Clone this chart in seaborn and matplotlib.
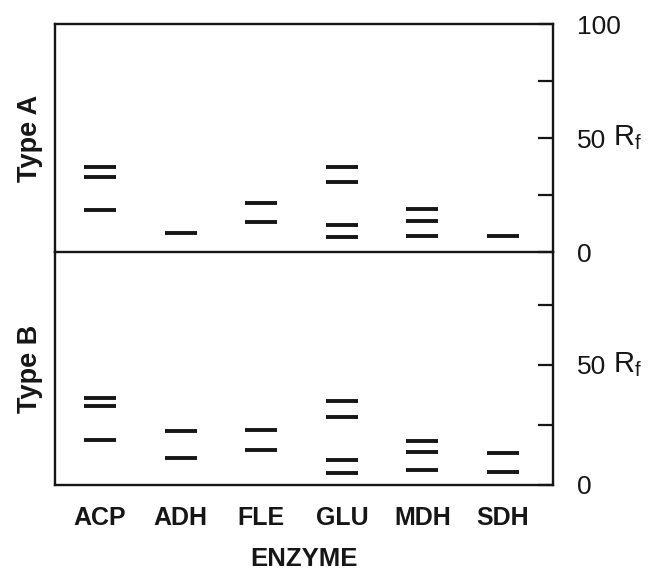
import matplotlib
matplotlib.use("Agg")
import matplotlib.pyplot as plt
import matplotlib.transforms as mtransforms
import seaborn as sns
import pandas as pd

enzymes = ["ACP", "ADH", "FLE", "GLU", "MDH", "SDH"]

# Rf band positions (x100)
type_a_enzyme = ["ACP", "ACP", "ACP", "ADH", "FLE", "FLE",
                 "GLU", "GLU", "GLU", "GLU", "MDH", "MDH", "MDH", "SDH"]
type_a_rf = [37.5, 32.8, 18.5, 8.5, 21.5, 13.3,
             37.3, 30.7, 11.7, 6.7, 19.0, 13.7, 6.9, 6.9]

type_b_enzyme = ["ACP", "ACP", "ACP", "ADH", "ADH", "FLE", "FLE",
                 "GLU", "GLU", "GLU", "GLU", "MDH", "MDH", "MDH", "SDH", "SDH"]
type_b_rf = [36.3, 32.7, 18.7, 22.6, 11.2, 22.7, 14.4,
             34.8, 28.3, 10.2, 5.1, 18.5, 13.6, 6.1, 13.2, 5.6]

top_ticks = [0, 25, 50, 75, 100]
top_ticklabels = ["0", "", "50", "", "100"]
bottom_ticks = [0, 25, 50, 75]
bottom_ticklabels = ["0", "", "50", ""]

sns.set_theme(style="white")
plt.rcParams["font.family"] = ["Liberation Sans", "DejaVu Sans"]
plt.rcParams["mathtext.fontset"] = "custom"
plt.rcParams["mathtext.rm"] = "Liberation Sans"
plt.rcParams["mathtext.it"] = "Liberation Sans"

df_a = pd.DataFrame({"enzyme": type_a_enzyme, "rf": type_a_rf})
df_b = pd.DataFrame({"enzyme": type_b_enzyme, "rf": type_b_rf})

W, H = 667, 573
fig = plt.figure(figsize=(W / 100, H / 100), dpi=100)
left, right = 55 / W, 553 / W
y_top, y_mid, y_bot = 1 - 24 / H, 1 - 252 / H, 1 - 485 / H
ax_a = fig.add_axes([left, y_mid, right - left, y_top - y_mid])
ax_b = fig.add_axes([left, y_bot, right - left, y_mid - y_bot])

ink = "#161616"
lw_spine = 1.7
for ax, df, ylim, ticks, tlabels, name in [
    (ax_a, df_a, (0, 100), top_ticks, top_ticklabels, "Type A"),
    (ax_b, df_b, (0, 97), bottom_ticks, bottom_ticklabels, "Type B"),
]:
    ax.patch.set_alpha(0)
    sns.scatterplot(data=df, x="enzyme", y="rf", ax=ax, marker="_",
                    s=560, linewidth=2.8, color=ink, legend=False)
    ax.set_xlim(-0.56, 5.62)
    ax.set_ylim(*ylim)
    ax.set_xlabel("")
    ax.set_ylabel("")
    ax.yaxis.tick_right()
    ax.set_yticks(ticks)
    ax.set_yticklabels(tlabels, fontsize=19)
    ax.tick_params(axis="y", direction="in", length=11, width=1.6,
                   pad=17, colors=ink, right=True, left=False)
    for sp in ax.spines.values():
        sp.set_linewidth(lw_spine)
        sp.set_color(ink)
    ax.text(-0.05, 0.5, name, transform=ax.transAxes, rotation=90,
            ha="center", va="center", fontsize=19.5, fontweight="bold",
            color=ink)
    trans = mtransforms.blended_transform_factory(ax.transAxes, ax.transData)
    ax.text(1.12, 50, r"$\mathrm{R_f}$", transform=trans, ha="left",
            va="center", fontsize=21, color=ink)

ax_b.spines["top"].set_visible(False)
ax_a.set_xticks([])
ax_b.set_xticks(range(len(enzymes)))
ax_b.set_xticklabels(enzymes, fontsize=18, fontweight="bold")
ax_b.tick_params(axis="x", length=0, pad=15, colors=ink)

fig.text((55 + 553) / 2 / W, 1 - 559 / H, "ENZYME", ha="center",
         va="center", fontsize=18.5, fontweight="bold", color=ink)

fig.savefig("out.png", dpi=100, facecolor="white")
